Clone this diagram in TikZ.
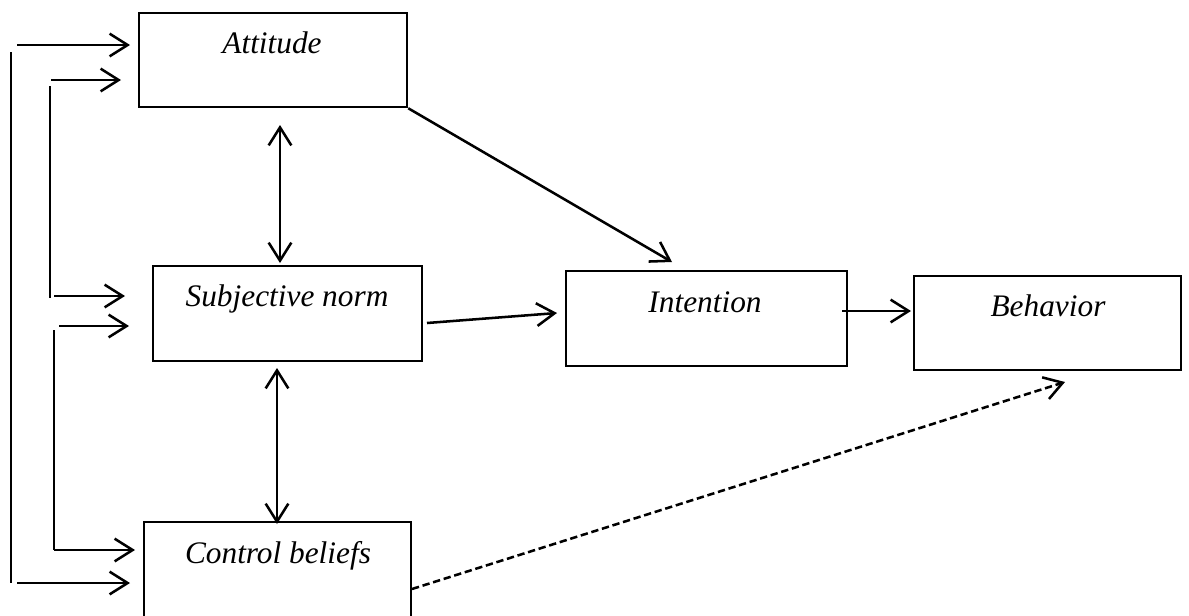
\documentclass[tikz,border=0pt]{standalone}
\usepackage{fontspec}
\setmainfont{Liberation Serif}
\usetikzlibrary{arrows.meta}
\tikzset{
  box/.style={draw, line width=1.9pt, inner sep=0pt, rectangle},
  lbl/.style={inner sep=0pt, font=\fontsize{23.5}{28}\selectfont\itshape},
  arr/.style={line width=1.9pt, -{Straight Barb[length=13.5pt,width=17pt]}},
  darr/.style={line width=1.9pt, {Straight Barb[length=13.5pt,width=17pt]}-{Straight Barb[length=13.5pt,width=17pt]}},
  dasharr/.style={line width=1.9pt, dash pattern=on 5.5pt off 2.8pt, -{Straight Barb[length=13.5pt,width=17pt]}},
  feed/.style={line width=1.1pt},
}
\begin{document}
\begin{tikzpicture}[x=0.75pt,y=-0.75pt]
\useasboundingbox (0,0) rectangle (1189,615);
\clip (0,0) rectangle (1189,615);
% boxes
\node[box, minimum width=268*0.75pt, minimum height=94*0.75pt] (att) at (273,60) {};
\node[box, minimum width=269*0.75pt, minimum height=95*0.75pt] (sub) at (287.5,313.5) {};
\node[box, minimum width=281*0.75pt, minimum height=95*0.75pt] (int) at (706.5,318.5) {};
\node[box, minimum width=267*0.75pt, minimum height=94*0.75pt] (beh) at (1047.5,323) {};
\node[box, minimum width=267*0.75pt, minimum height=100*0.75pt] (con) at (277.5,572) {};
% labels
\node[lbl, anchor=base] (atttxt) at (272,53) {Attitude};
\node[lbl, anchor=base] (subtxt) at (287,306) {Subjective norm};
\node[lbl, anchor=base] (inttxt) at (705,312) {Intention};
\node[lbl, anchor=base] (behtxt) at (1048,316) {Behavior};
\node[lbl, anchor=base] (contxt) at (278,563) {Control beliefs};
% coordinates
\coordinate (v1a) at (11,52);   \coordinate (v1b) at (11,583);
\coordinate (v2a) at (50,86);   \coordinate (v2b) at (50,298);
\coordinate (v3a) at (54,330);  \coordinate (v3b) at (54,550);
\coordinate (a1s) at (17,45);   \coordinate (a1e) at (130,45);
\coordinate (a2s) at (51,80);   \coordinate (a2e) at (121,80);
\coordinate (a3s) at (54,296);  \coordinate (a3e) at (125,296);
\coordinate (a4s) at (59,326);  \coordinate (a4e) at (129,326);
\coordinate (a5s) at (54,550);  \coordinate (a5e) at (135,550);
\coordinate (a6s) at (17,583);  \coordinate (a6e) at (130,583);
\coordinate (d1a) at (280,125); \coordinate (d1b) at (280,263);
\coordinate (d2a) at (277,368); \coordinate (d2b) at (277,524);
\coordinate (ai) at (672,262);
\coordinate (sis) at (427,323); \coordinate (sie) at (557,313);
\coordinate (ibs) at (842,311); \coordinate (ibe) at (911,311);
\coordinate (cbs) at (412,589); \coordinate (cbe) at (1065,382);
% feeder lines
\draw[feed] (v1a) -- (v1b);
\draw[feed] (v2a) -- (v2b);
\draw[feed] (v3a) -- (v3b);
\draw[arr] (a1s) -- (a1e);
\draw[arr] (a2s) -- (a2e);
\draw[arr] (a3s) -- (a3e);
\draw[arr] (a4s) -- (a4e);
\draw[arr] (a5s) -- (a5e);
\draw[arr] (a6s) -- (a6e);
% inter-box connectors
\draw[darr] (d1a) -- (d1b);
\draw[darr] (d2a) -- (d2b);
\draw[arr] (att.south east) -- (ai);
\draw[arr] (sis) -- (sie);
\draw[arr] (ibs) -- (ibe);
\draw[dasharr] (cbs) -- (cbe);
\end{tikzpicture}
\end{document}
